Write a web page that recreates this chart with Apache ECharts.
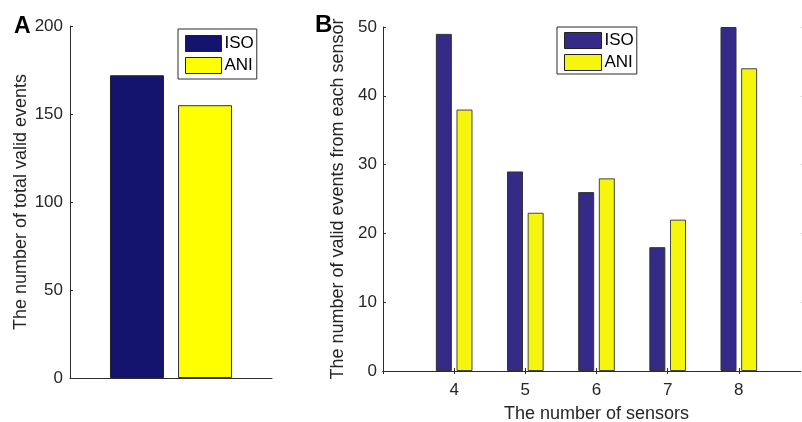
<!DOCTYPE html>
<html>
<head>
<meta charset="utf-8">
<script src="https://cdn.jsdelivr.net/npm/echarts@6/dist/echarts.min.js"></script>
<style>html,body{margin:0;padding:0;background:#fff}#c{width:802px;height:422px}</style>
</head>
<body>
<div id="c"></div>
<script>
// ---- data ----
const seriesNames = ['ISO', 'ANI'];
const totalCategories = [''];
const totalIso = [172];
const totalAni = [155];
const sensorCounts = [4, 5, 6, 7, 8];
const isoBySensor = [49, 29, 26, 18, 50];
const aniBySensor = [38, 23, 28, 22, 44];
const totalTicks = { min: 0, max: 200, interval: 50 };
const sensorTicks = { min: 0, max: 50, interval: 10 };
const sensorXRange = { min: 3, max: 9, interval: 1 };

// ---- styles ----
const FONT = 'Liberation Sans, Arial, sans-serif';
const AX = '#2b2b2b';
const colA = ['#14146e', '#ffff00'];
const colB = ['#352a87', '#f6f60c'];

const chart = echarts.init(document.getElementById('c'));

const axisLine = { show: true, lineStyle: { color: AX, width: 1 } };
const label = { color: '#262626', fontSize: 17, fontFamily: FONT };
const nameStyle = { color: '#262626', fontSize: 18, fontFamily: FONT };

function legend(left, top, colors, padding, iw) {
  return {
    orient: 'vertical', left: left, top: top,
    itemWidth: iw, itemHeight: 16, itemGap: 5, padding: padding,
    borderColor: AX, borderWidth: 1, backgroundColor: '#fff',
    selectedMode: false, icon: 'rect',
    textStyle: { color: '#000', fontSize: 17, fontFamily: FONT, padding: [0, 0, 0, -2] },
    data: seriesNames.map((n, i) => ({ name: n, itemStyle: { color: colors[i], borderColor: '#222', borderWidth: 1 } }))
  };
}

const option = {
  animation: false,
  backgroundColor: '#fff',
  grid: [
    { left: 70, top: 26, width: 202, height: 352, outerBoundsMode: 'none', containLabel: false },
    { left: 383, top: 27, width: 427, height: 344, outerBoundsMode: 'none', containLabel: false }
  ],
  legend: [
    legend(178, 29, colA, [6, 3, 5, 7], 36),
    legend(557, 27, colB, [5, 3, 3, 7], 37)
  ],
  xAxis: [
    { type: 'category', gridIndex: 0, data: totalCategories, axisLine: axisLine,
      axisTick: { show: false }, axisLabel: { show: false }, splitLine: { show: false } },
    { type: 'value', gridIndex: 1, min: sensorXRange.min, max: sensorXRange.max, interval: sensorXRange.interval,
      axisLine: axisLine, axisTick: { inside: true, length: 3, lineStyle: { color: AX } },
      axisLabel: Object.assign({}, label, { margin: 11,
        formatter: v => (sensorCounts.indexOf(v) >= 0 ? String(v) : '') }),
      splitLine: { show: false },
      name: 'The number of sensors', nameLocation: 'middle', nameGap: 34, nameTextStyle: nameStyle },
    { type: 'value', gridIndex: 1, position: 'top', min: sensorXRange.min, max: sensorXRange.max, interval: sensorXRange.interval,
      axisLine: axisLine, axisTick: { inside: true, length: 3, lineStyle: { color: AX } },
      axisLabel: { show: false }, splitLine: { show: false } }
  ],
  yAxis: [
    { type: 'value', gridIndex: 0, min: totalTicks.min, max: totalTicks.max, interval: totalTicks.interval,
      axisLine: axisLine, axisTick: { show: true, inside: true, length: 3, lineStyle: { color: AX } },
      axisLabel: Object.assign({}, label, { margin: 7 }), splitLine: { show: false },
      name: 'The number of total valid events', nameLocation: 'middle', nameGap: 40, nameTextStyle: nameStyle },
    { type: 'value', gridIndex: 1, min: sensorTicks.min, max: sensorTicks.max, interval: sensorTicks.interval,
      axisLine: axisLine, axisTick: { show: true, inside: true, length: 3, lineStyle: { color: AX } },
      axisLabel: Object.assign({}, label, { margin: 6 }), splitLine: { show: false },
      name: 'The number of valid events from each sensor', nameLocation: 'middle', nameGap: 31, nameTextStyle: nameStyle },
    { type: 'value', gridIndex: 1, position: 'right', min: sensorTicks.min, max: sensorTicks.max, interval: sensorTicks.interval,
      axisLine: axisLine, axisTick: { show: true, inside: true, length: 9, lineStyle: { color: '#ccc' } },
      axisLabel: { show: false }, splitLine: { show: false } }
  ],
  series: [
    { name: seriesNames[0], type: 'bar', xAxisIndex: 0, yAxisIndex: 0, data: totalIso,
      barWidth: 54, barGap: '26%', itemStyle: { color: colA[0], borderColor: '#222', borderWidth: 1 } },
    { name: seriesNames[1], type: 'bar', xAxisIndex: 0, yAxisIndex: 0, data: totalAni,
      barWidth: 54, barGap: '26%', itemStyle: { color: colA[1], borderColor: '#333', borderWidth: 1 } },
    { name: seriesNames[0], type: 'bar', xAxisIndex: 1, yAxisIndex: 1,
      data: sensorCounts.map((s, i) => [s, isoBySensor[i]]),
      barWidth: 16, barGap: '29%', itemStyle: { color: colB[0], borderColor: '#333', borderWidth: 1 } },
    { name: seriesNames[1], type: 'bar', xAxisIndex: 1, yAxisIndex: 1,
      data: sensorCounts.map((s, i) => [s, aniBySensor[i]]),
      barWidth: 16, barGap: '29%', itemStyle: { color: colB[1], borderColor: '#444', borderWidth: 1 } }
  ],
  graphic: [
    { type: 'text', left: 14, top: 15, style: { text: 'A', fontSize: 23, fontWeight: 'bold', fontFamily: FONT, fill: '#000' } },
    { type: 'text', left: 315, top: 13, style: { text: 'B', fontSize: 24, fontWeight: 'bold', fontFamily: FONT, fill: '#000' } }
  ]
};
chart.setOption(option);
</script>
</body>
</html>
